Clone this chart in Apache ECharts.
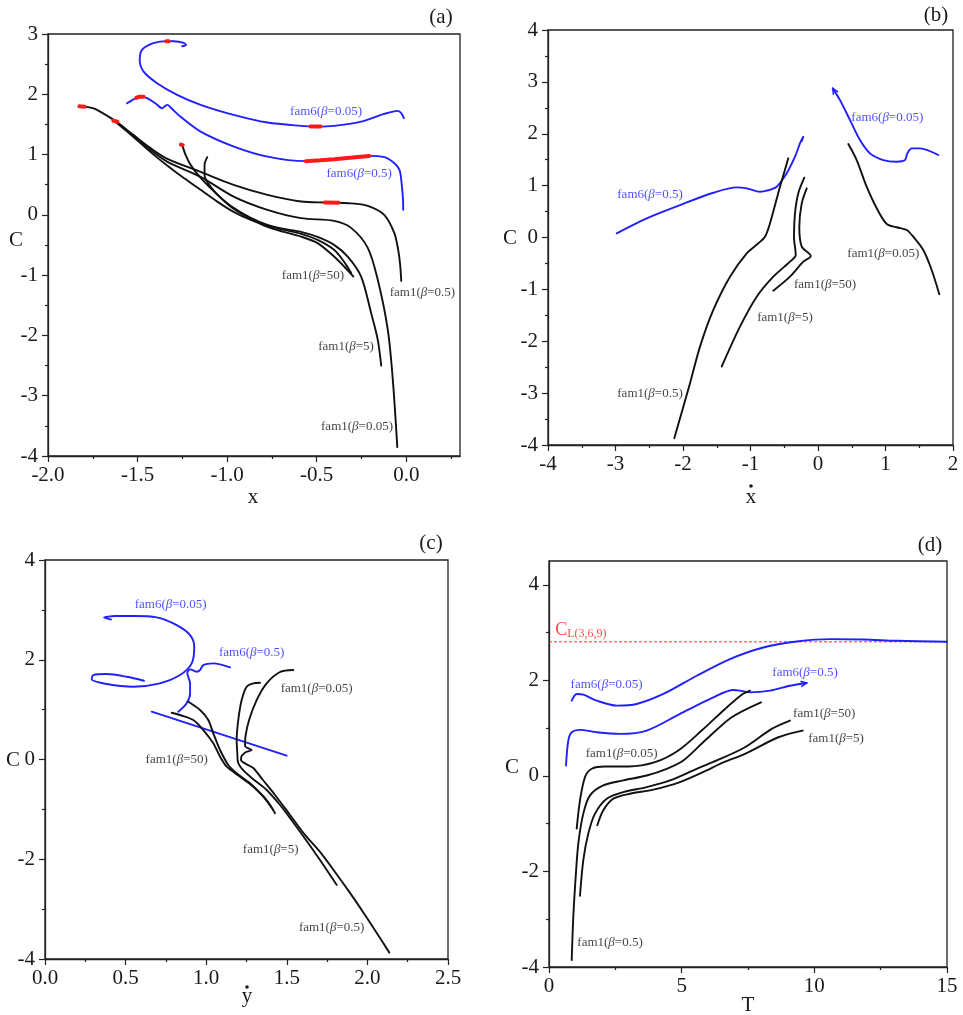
<!DOCTYPE html>
<html><head><meta charset="utf-8">
<script src="https://cdn.jsdelivr.net/npm/echarts@6/dist/echarts.min.js"></script>
<style>html,body{margin:0;padding:0;background:#fff}#c{width:963px;height:1015px}</style>
</head><body><div id="c"></div>
<script>
// ---------------- Panel (a): C vs x ----------------
const aFam6_005 = [[-1.251,2.797],[-1.229,2.819],[-1.242,2.852],[-1.298,2.880],[-1.333,2.881],[-1.412,2.847],[-1.475,2.736],[-1.488,2.570],[-1.466,2.376],[-1.391,2.184],[-1.279,1.990],[-1.148,1.824],[-0.964,1.658],[-0.775,1.531],[-0.588,1.476],[-0.504,1.464],[-0.403,1.476],[-0.252,1.547],[-0.123,1.675],[-0.046,1.725],[-0.028,1.687],[-0.013,1.604]];
const aFam6_05 = [[-1.559,1.852],[-1.503,1.945],[-1.475,1.962],[-1.447,1.935],[-1.401,1.852],[-1.363,1.769],[-1.345,1.808],[-1.332,1.824],[-1.317,1.786],[-1.261,1.630],[-1.148,1.381],[-0.962,1.133],[-0.775,0.967],[-0.560,0.891],[-0.402,0.924],[-0.215,0.978],[-0.122,0.957],[-0.066,0.857],[-0.038,0.746],[-0.028,0.580],[-0.018,0.249],[-0.017,0.083]];
const aFam1_05 = [[-1.811,1.796],[-1.754,1.774],[-1.709,1.713],[-1.625,1.559],[-1.524,1.327],[-1.429,1.111],[-1.333,0.929],[-1.148,0.713],[-0.964,0.498],[-0.775,0.332],[-0.588,0.221],[-0.448,0.204],[-0.308,0.191],[-0.215,0.149],[-0.123,0.0],[-0.067,-0.299],[-0.045,-0.580],[-0.034,-0.829],[-0.028,-1.095]];
const aFam1_005 = [[-1.625,1.547],[-1.524,1.310],[-1.429,1.078],[-1.333,0.879],[-1.148,0.630],[-0.964,0.303],[-0.775,0.083],[-0.588,-0.055],[-0.403,-0.100],[-0.308,-0.216],[-0.215,-0.547],[-0.159,-1.078],[-0.103,-1.907],[-0.075,-2.736],[-0.050,-3.852]];
const aFam1_b = [[-1.625,1.547],[-1.524,1.294],[-1.429,1.045],[-1.333,0.813],[-1.244,0.614],[-1.148,0.415],[-1.053,0.216],[-0.964,0.050],[-0.868,-0.083],[-0.775,-0.182],[-0.683,-0.249],[-0.588,-0.315],[-0.495,-0.415],[-0.403,-0.580],[-0.347,-0.779],[-0.308,-0.962]];
const aFam1_5 = [[-1.251,1.161],[-1.232,0.995],[-1.204,0.829],[-1.148,0.614],[-1.053,0.332],[-0.964,0.116],[-0.868,-0.050],[-0.775,-0.166],[-0.683,-0.232],[-0.588,-0.282],[-0.495,-0.365],[-0.403,-0.498],[-0.327,-0.692],[-0.252,-1.023],[-0.196,-1.630],[-0.159,-2.073],[-0.140,-2.499]];
const aFam1_50 = [[-1.111,0.957],[-1.126,0.829],[-1.126,0.663],[-1.092,0.464],[-1.036,0.282],[-0.964,0.100],[-0.868,-0.066],[-0.775,-0.199],[-0.683,-0.282],[-0.588,-0.360],[-0.495,-0.469],[-0.403,-0.692],[-0.347,-0.857],[-0.295,-1.023]];
const aRed1 = [[-1.825,1.800],[-1.795,1.795]];
const aRed2 = [[-1.635,1.560],[-1.612,1.545]];
const aRed3 = [[-1.258,1.165],[-1.248,1.155]];
const aRed4 = [[-1.340,2.880],[-1.326,2.881]];
const aRed5 = [[-1.508,1.940],[-1.492,1.958],[-1.466,1.958]];
const aRed6 = [[-0.535,1.466],[-0.478,1.466]];
const aRed7 = [[-0.560,0.891],[-0.480,0.905],[-0.402,0.924],[-0.300,0.950],[-0.206,0.978]];
const aRed8 = [[-0.455,0.204],[-0.378,0.201]];
const aLabels = [['fam6','0.05',-0.448,1.708,'b'],['fam6','0.5',-0.263,0.68,'b'],['fam1','50',-0.521,-1.01,'k'],['fam1','0.5',0.09,-1.29,'k'],['fam1','5',-0.336,-2.19,'k'],['fam1','0.05',-0.275,-3.52,'k']];
const aXTicks = [-2,-1.5,-1,-0.5,0], aXMinor = [-1.75,-1.25,-0.75,-0.25,0.25];
const aYTicks = [-4,-3,-2,-1,0,1,2,3], aYMinor = [-3.5,-2.5,-1.5,-0.5,0.5,1.5,2.5];

// ---------------- Panel (b): C vs xdot ----------------
const bFam6_05 = [[-2.982,0.081],[-2.538,0.370],[-2.044,0.626],[-1.551,0.863],[-1.204,0.967],[-1.056,0.948],[-0.859,0.882],[-0.760,0.902],[-0.612,0.979],[-0.464,1.237],[-0.341,1.557],[-0.267,1.815],[-0.218,1.942],[-0.240,1.860]];
const bFam6_005 = [[0.218,2.875],[0.326,2.649],[0.474,2.264],[0.622,1.879],[0.770,1.622],[0.967,1.493],[1.166,1.461],[1.289,1.493],[1.323,1.622],[1.388,1.719],[1.511,1.719],[1.782,1.590]];
const bArrow = [[0.228,2.759],[0.218,2.875],[0.292,2.811]];
const bFam1_005 = [[0.449,1.802],[0.573,1.493],[0.721,0.979],[0.870,0.563],[1.018,0.260],[1.166,0.197],[1.314,0.145],[1.412,0.015],[1.560,-0.241],[1.684,-0.626],[1.797,-1.094]];
const bFam1_05 = [[-0.440,1.526],[-0.563,0.979],[-0.711,0.274],[-0.785,0.015],[-0.884,-0.112],[-1.056,-0.304],[-1.304,-0.755],[-1.551,-1.397],[-1.748,-2.104],[-1.896,-2.809],[-2.044,-3.484],[-2.129,-3.869]];
const bFam1_5 = [[-0.203,1.152],[-0.292,0.852],[-0.341,0.466],[-0.356,0.015],[-0.330,-0.337],[-0.415,-0.466],[-0.662,-0.755],[-0.908,-1.141],[-1.156,-1.719],[-1.427,-2.489]];
const bFam1_50 = [[-0.167,0.948],[-0.241,0.659],[-0.277,0.208],[-0.241,-0.177],[-0.108,-0.356],[-0.218,-0.466],[-0.415,-0.755],[-0.662,-1.025]];
const bLabels = [['fam6','0.05',1.027,2.316,'b'],['fam6','0.5',-2.489,0.819,'b'],['fam1','0.05',0.967,-0.318,'k'],['fam1','50',0.104,-0.915,'k'],['fam1','5',-0.489,-1.545,'k'],['fam1','0.5',-2.489,-3.015,'k']];
const bXTicks = [-4,-3,-2,-1,0,1,2], bXMinor = [-3.5,-2.5,-1.5,-0.5,0.5,1.5];
const bYTicks = [-4,-3,-2,-1,0,1,2,3,4], bYMinor = [-3.5,-2.5,-1.5,-0.5,0.5,1.5,2.5,3.5];

// ---------------- Panel (c): C vs ydot ----------------
const cFam6_005 = [[0.409,2.806],[0.366,2.846],[0.434,2.876],[0.548,2.876],[0.693,2.850],[0.817,2.695],[0.900,2.495],[0.926,2.261],[0.910,1.928],[0.837,1.693],[0.713,1.527],[0.548,1.459],[0.383,1.513],[0.290,1.607],[0.300,1.693],[0.383,1.713],[0.507,1.659],[0.614,1.579]];
const cFam6_05 = [[1.148,1.848],[1.044,1.928],[0.982,1.894],[0.962,1.794],[0.941,1.760],[0.900,1.808],[0.883,1.727],[0.900,1.527],[0.900,1.327],[0.879,1.126],[0.827,0.958]];
const cFam6_05b = [[0.662,0.958],[1.499,0.076]];
const cFam1_005 = [[1.540,1.794],[1.458,1.754],[1.375,1.527],[1.313,1.192],[1.266,0.792],[1.244,0.471],[1.241,0.271],[1.282,0.190],[1.247,0.150],[1.220,0.070],[1.216,-0.010],[1.247,-0.090],[1.292,-0.170],[1.352,-0.411],[1.427,-0.711],[1.520,-1.112],[1.613,-1.513],[1.706,-1.854],[1.799,-2.255],[1.892,-2.675],[1.985,-3.116],[2.066,-3.517],[2.136,-3.872]];
const cFam1_q = [[1.334,1.539],[1.292,1.527],[1.251,1.459],[1.220,1.192],[1.199,0.792],[1.189,0.391],[1.193,0.124],[1.197,-0.050],[1.228,-0.210],[1.290,-0.391],[1.375,-0.611],[1.458,-0.912],[1.538,-1.252],[1.619,-1.613],[1.706,-2.014],[1.810,-2.515]];
const cFam1_r = [[0.786,0.938],[0.837,0.892],[0.920,0.792],[0.982,0.591],[1.044,0.325],[1.086,0.056],[1.127,-0.144],[1.210,-0.345],[1.292,-0.545],[1.375,-0.812],[1.427,-1.078]];
const cFam1_s = [[0.889,1.158],[0.962,0.992],[1.013,0.792],[1.044,0.525],[1.086,0.190],[1.137,-0.110],[1.189,-0.277],[1.272,-0.477],[1.354,-0.745],[1.416,-1.012]];
const cLabels = [['fam6','0.05',0.78,3.10,'b'],['fam6','0.5',1.282,2.148,'b'],['fam1','0.05',1.685,1.427,'k'],['fam1','50',0.817,-0.01,'k'],['fam1','5',1.40,-1.81,'k'],['fam1','0.5',1.778,-3.38,'k']];
const cXTicks = [0,0.5,1,1.5,2,2.5], cXMinor = [0.25,0.75,1.25,1.75,2.25];
const cYTicks = [-4,-2,0,2,4], cYMinor = [-3,-1,1,3];

// ---------------- Panel (d): C vs T ----------------
const CL369 = 2.808;
const dFam6_005 = [[0.856,1.576],[1.044,1.716],[1.293,1.701],[1.798,1.576],[2.552,1.472],[3.306,1.507],[4.308,1.716],[5.567,2.098],[6.822,2.447],[8.078,2.689],[9.337,2.814],[10.592,2.864],[11.847,2.856],[13.106,2.829],[14.990,2.808]];
const dFam6_05 = [[0.641,0.219],[0.727,0.741],[0.856,0.914],[1.168,0.965],[1.798,0.914],[2.676,0.881],[3.683,0.950],[4.938,1.299],[6.193,1.645],[6.947,1.800],[7.199,1.785],[7.576,1.749],[8.330,1.785],[9.084,1.889],[9.714,1.946]];
const dArrow = [[9.495,1.979],[9.714,1.946],[9.525,1.875]];
const dFam1_005 = [[1.044,-1.102],[1.168,-0.511],[1.357,-0.025],[1.610,0.150],[2.111,0.198],[2.989,0.198],[3.995,0.288],[4.874,0.532],[5.756,0.950],[6.634,1.403],[7.264,1.701],[7.576,1.785]];
const dFam1_05 = [[0.856,-3.852],[0.916,-2.948],[1.006,-2.113],[1.104,-1.415],[1.293,-0.789],[1.545,-0.407],[2.047,-0.198],[2.801,-0.094],[3.683,0.010],[4.436,0.150],[5.062,0.324],[5.880,0.741],[6.887,1.228],[7.991,1.541]];
const dFam1_50 = [[1.168,-2.509],[1.293,-1.764],[1.481,-1.207],[1.734,-0.789],[2.175,-0.476],[2.801,-0.338],[3.683,-0.234],[4.561,-0.094],[5.567,0.150],[6.321,0.324],[7.388,0.601],[8.394,0.985],[9.084,1.159]];
const dFam1_5 = [[1.821,-1.033],[2.047,-0.720],[2.424,-0.476],[3.053,-0.372],[3.931,-0.288],[4.938,-0.129],[5.944,0.115],[6.446,0.255],[7.388,0.463],[8.643,0.810],[9.563,0.950]];
const dLabels = [['fam6','0.05',2.17,1.92,'b'],['fam6','0.5',9.65,2.17,'b'],['fam1','0.05',2.74,0.46,'k'],['fam1','50',10.37,1.30,'k'],['fam1','5',10.82,0.78,'k'],['fam1','0.5',2.30,-3.49,'k']];
const dXTicks = [0,5,10,15], dXMinor = [2.5,7.5,12.5];
const dYTicks = [-4,-2,0,2,4], dYMinor = [-3,-1,1,3];

// ---------------- styling / building ----------------
const FONT = 'Liberation Serif';
const BLUE = '#1f1fff', BLACK = '#111111', RED = '#ff1a1a';
const COL = {b: BLUE, k: BLACK};

const panels = [
  {rect:{left:48, top:34, width:412, height:422}, x:[-2,0.3], y:[-4,3], xt:aXTicks, xm:aXMinor, yt:aYTicks, ym:aYMinor, xf:v=>v.toFixed(1)},
  {rect:{left:548, top:30, width:405, height:415}, x:[-4,2], y:[-4,4], xt:bXTicks, xm:bXMinor, yt:bYTicks, ym:bYMinor, xf:v=>String(v)},
  {rect:{left:45, top:560, width:403, height:399}, x:[0,2.5], y:[-4,4], xt:cXTicks, xm:cXMinor, yt:cYTicks, ym:cYMinor, xf:v=>v.toFixed(1)},
  {rect:{left:549, top:561, width:398, height:406}, x:[0,15], y:[-4,4.5], xt:dXTicks, xm:dXMinor, yt:dYTicks, ym:dYMinor, xf:v=>String(v)}
];

const grid = [], xAxis = [], yAxis = [];
const axLine = {show:true, onZero:false, lineStyle:{color:'#222', width:1.3}};
panels.forEach((p,i)=>{
  grid.push(Object.assign({show:true, borderColor:'#222', borderWidth:1.3, backgroundColor:'transparent'}, p.rect));
});
panels.forEach((p,i)=>{
  grid.push(Object.assign({show:false}, p.rect));
});
panels.forEach((p,i)=>{
  xAxis.push({type:'value', gridIndex:i, min:p.x[0], max:p.x[1], position:'bottom',
    axisLine:axLine, splitLine:{show:false},
    axisTick:{show:true, customValues:p.xt, length:6, lineStyle:{color:'#222', width:1.2}},
    axisLabel:{show:true, customValues:p.xt, formatter:p.xf, fontFamily:FONT, fontSize:21, color:'#1a1a1a', margin:9}});
  yAxis.push({type:'value', gridIndex:i, min:p.y[0], max:p.y[1], position:'left',
    axisLine:axLine, splitLine:{show:false},
    axisTick:{show:true, customValues:p.yt, length:6, lineStyle:{color:'#222', width:1.2}},
    axisLabel:{show:true, customValues:p.yt, formatter:v=>String(v), fontFamily:FONT, fontSize:21, color:'#1a1a1a', margin:10}});
});
panels.forEach((p,i)=>{
  xAxis.push({type:'value', gridIndex:4+i, min:p.x[0], max:p.x[1], position:'bottom',
    axisLine:{show:false, onZero:false}, splitLine:{show:false}, axisLabel:{show:false},
    axisTick:{show:true, customValues:p.xm, length:3, lineStyle:{color:'#222', width:1.2}}});
  yAxis.push({type:'value', gridIndex:4+i, min:p.y[0], max:p.y[1], position:'left',
    axisLine:{show:false, onZero:false}, splitLine:{show:false}, axisLabel:{show:false},
    axisTick:{show:true, customValues:p.ym, length:3, lineStyle:{color:'#222', width:1.2}}});
});

function curve(i, data, color, w, sm){
  return {type:'line', xAxisIndex:i, yAxisIndex:i, data:data, symbol:'none', showSymbol:false,
    smooth: sm===undefined ? 0.3 : sm, lineStyle:{color:color, width:w||1.9, cap:'round', join:'round'}, z:3, silent:true};
}
function redSeg(i, data){
  return {type:'line', xAxisIndex:i, yAxisIndex:i, data:data, symbol:'none', smooth:false,
    lineStyle:{color:RED, width:4, cap:'round'}, z:4, silent:true};
}
function labels(i, items){
  return {type:'scatter', xAxisIndex:i, yAxisIndex:i, symbolSize:1, itemStyle:{color:'rgba(0,0,0,0)'}, z:6, silent:true,
    data: items.map(t=>({value:[t[2],t[3]], txt: t[0]+'({i|β}='+t[1]+')', label:{color:COL[t[4]]}})),
    label:{show:true, position:'inside', fontFamily:FONT, fontSize:13,
      formatter:p=>p.data.txt, rich:{i:{fontStyle:'italic', fontFamily:FONT, fontSize:13}}}};
}

const series = [
  // (a)
  curve(0,aFam6_005,BLUE), curve(0,aFam6_05,BLUE),
  curve(0,aFam1_05,BLACK), curve(0,aFam1_005,BLACK), curve(0,aFam1_b,BLACK), curve(0,aFam1_5,BLACK), curve(0,aFam1_50,BLACK),
  redSeg(0,aRed1), redSeg(0,aRed2), redSeg(0,aRed3), redSeg(0,aRed4), redSeg(0,aRed5), redSeg(0,aRed6), redSeg(0,aRed7), redSeg(0,aRed8),
  labels(0,aLabels),
  // (b)
  curve(1,bFam6_05,BLUE), curve(1,bFam6_005,BLUE), curve(1,bArrow,BLUE,1.5,false),
  curve(1,bFam1_005,BLACK), curve(1,bFam1_05,BLACK), curve(1,bFam1_5,BLACK), curve(1,bFam1_50,BLACK),
  labels(1,bLabels),
  // (c)
  curve(2,cFam6_005,BLUE), curve(2,cFam6_05,BLUE), curve(2,cFam6_05b,BLUE,1.9,false),
  curve(2,cFam1_005,BLACK), curve(2,cFam1_q,BLACK), curve(2,cFam1_r,BLACK), curve(2,cFam1_s,BLACK),
  labels(2,cLabels),
  // (d)
  {type:'line', xAxisIndex:3, yAxisIndex:3, data:[[0,CL369],[15,CL369]], symbol:'none', lineStyle:{color:RED, width:0.9, type:[3,2]}, z:2, silent:true},
  curve(3,dFam6_005,BLUE), curve(3,dFam6_05,BLUE), curve(3,dArrow,BLUE,1.5,false),
  curve(3,dFam1_005,BLACK), curve(3,dFam1_05,BLACK), curve(3,dFam1_50,BLACK), curve(3,dFam1_5,BLACK),
  labels(3,dLabels),
  {type:'scatter', xAxisIndex:3, yAxisIndex:3, symbolSize:1, itemStyle:{color:'rgba(0,0,0,0)'}, z:6, silent:true,
    data:[{value:[1.2,3.06]}],
    label:{show:true, position:'inside', color:RED, fontFamily:FONT, formatter:'{c|C}{s|L(3,6,9)}',
      rich:{c:{fontSize:18, fontFamily:FONT, color:RED}, s:{fontSize:12, fontFamily:FONT, color:RED, padding:[9,0,0,0]}}}}
];

function txt(x,y,t,fs){ return {type:'text', x:x, y:y, silent:true, style:{text:t, fontFamily:FONT, fontSize:fs||21, fill:'#1a1a1a', align:'center', verticalAlign:'middle'}}; }
const graphic = [
  txt(441,17,'(a)'), txt(936,15,'(b)'), txt(431,543,'(c)'), txt(930,545,'(d)'),
  txt(16,240,'C'), txt(510,238,'C'), txt(13,760,'C'), txt(512,767,'C'),
  txt(253,497,'x'), txt(751,497,'x'), txt(247,996,'y'), txt(748,1005,'T'),
  {type:'circle', shape:{cx:751, cy:486, r:1.8}, style:{fill:'#1a1a1a'}, silent:true},
  {type:'circle', shape:{cx:247, cy:987, r:1.8}, style:{fill:'#1a1a1a'}, silent:true}
];

const chart = echarts.init(document.getElementById('c'));
chart.setOption({animation:false, backgroundColor:'#fff', grid, xAxis, yAxis, series, graphic});
</script></body></html>
